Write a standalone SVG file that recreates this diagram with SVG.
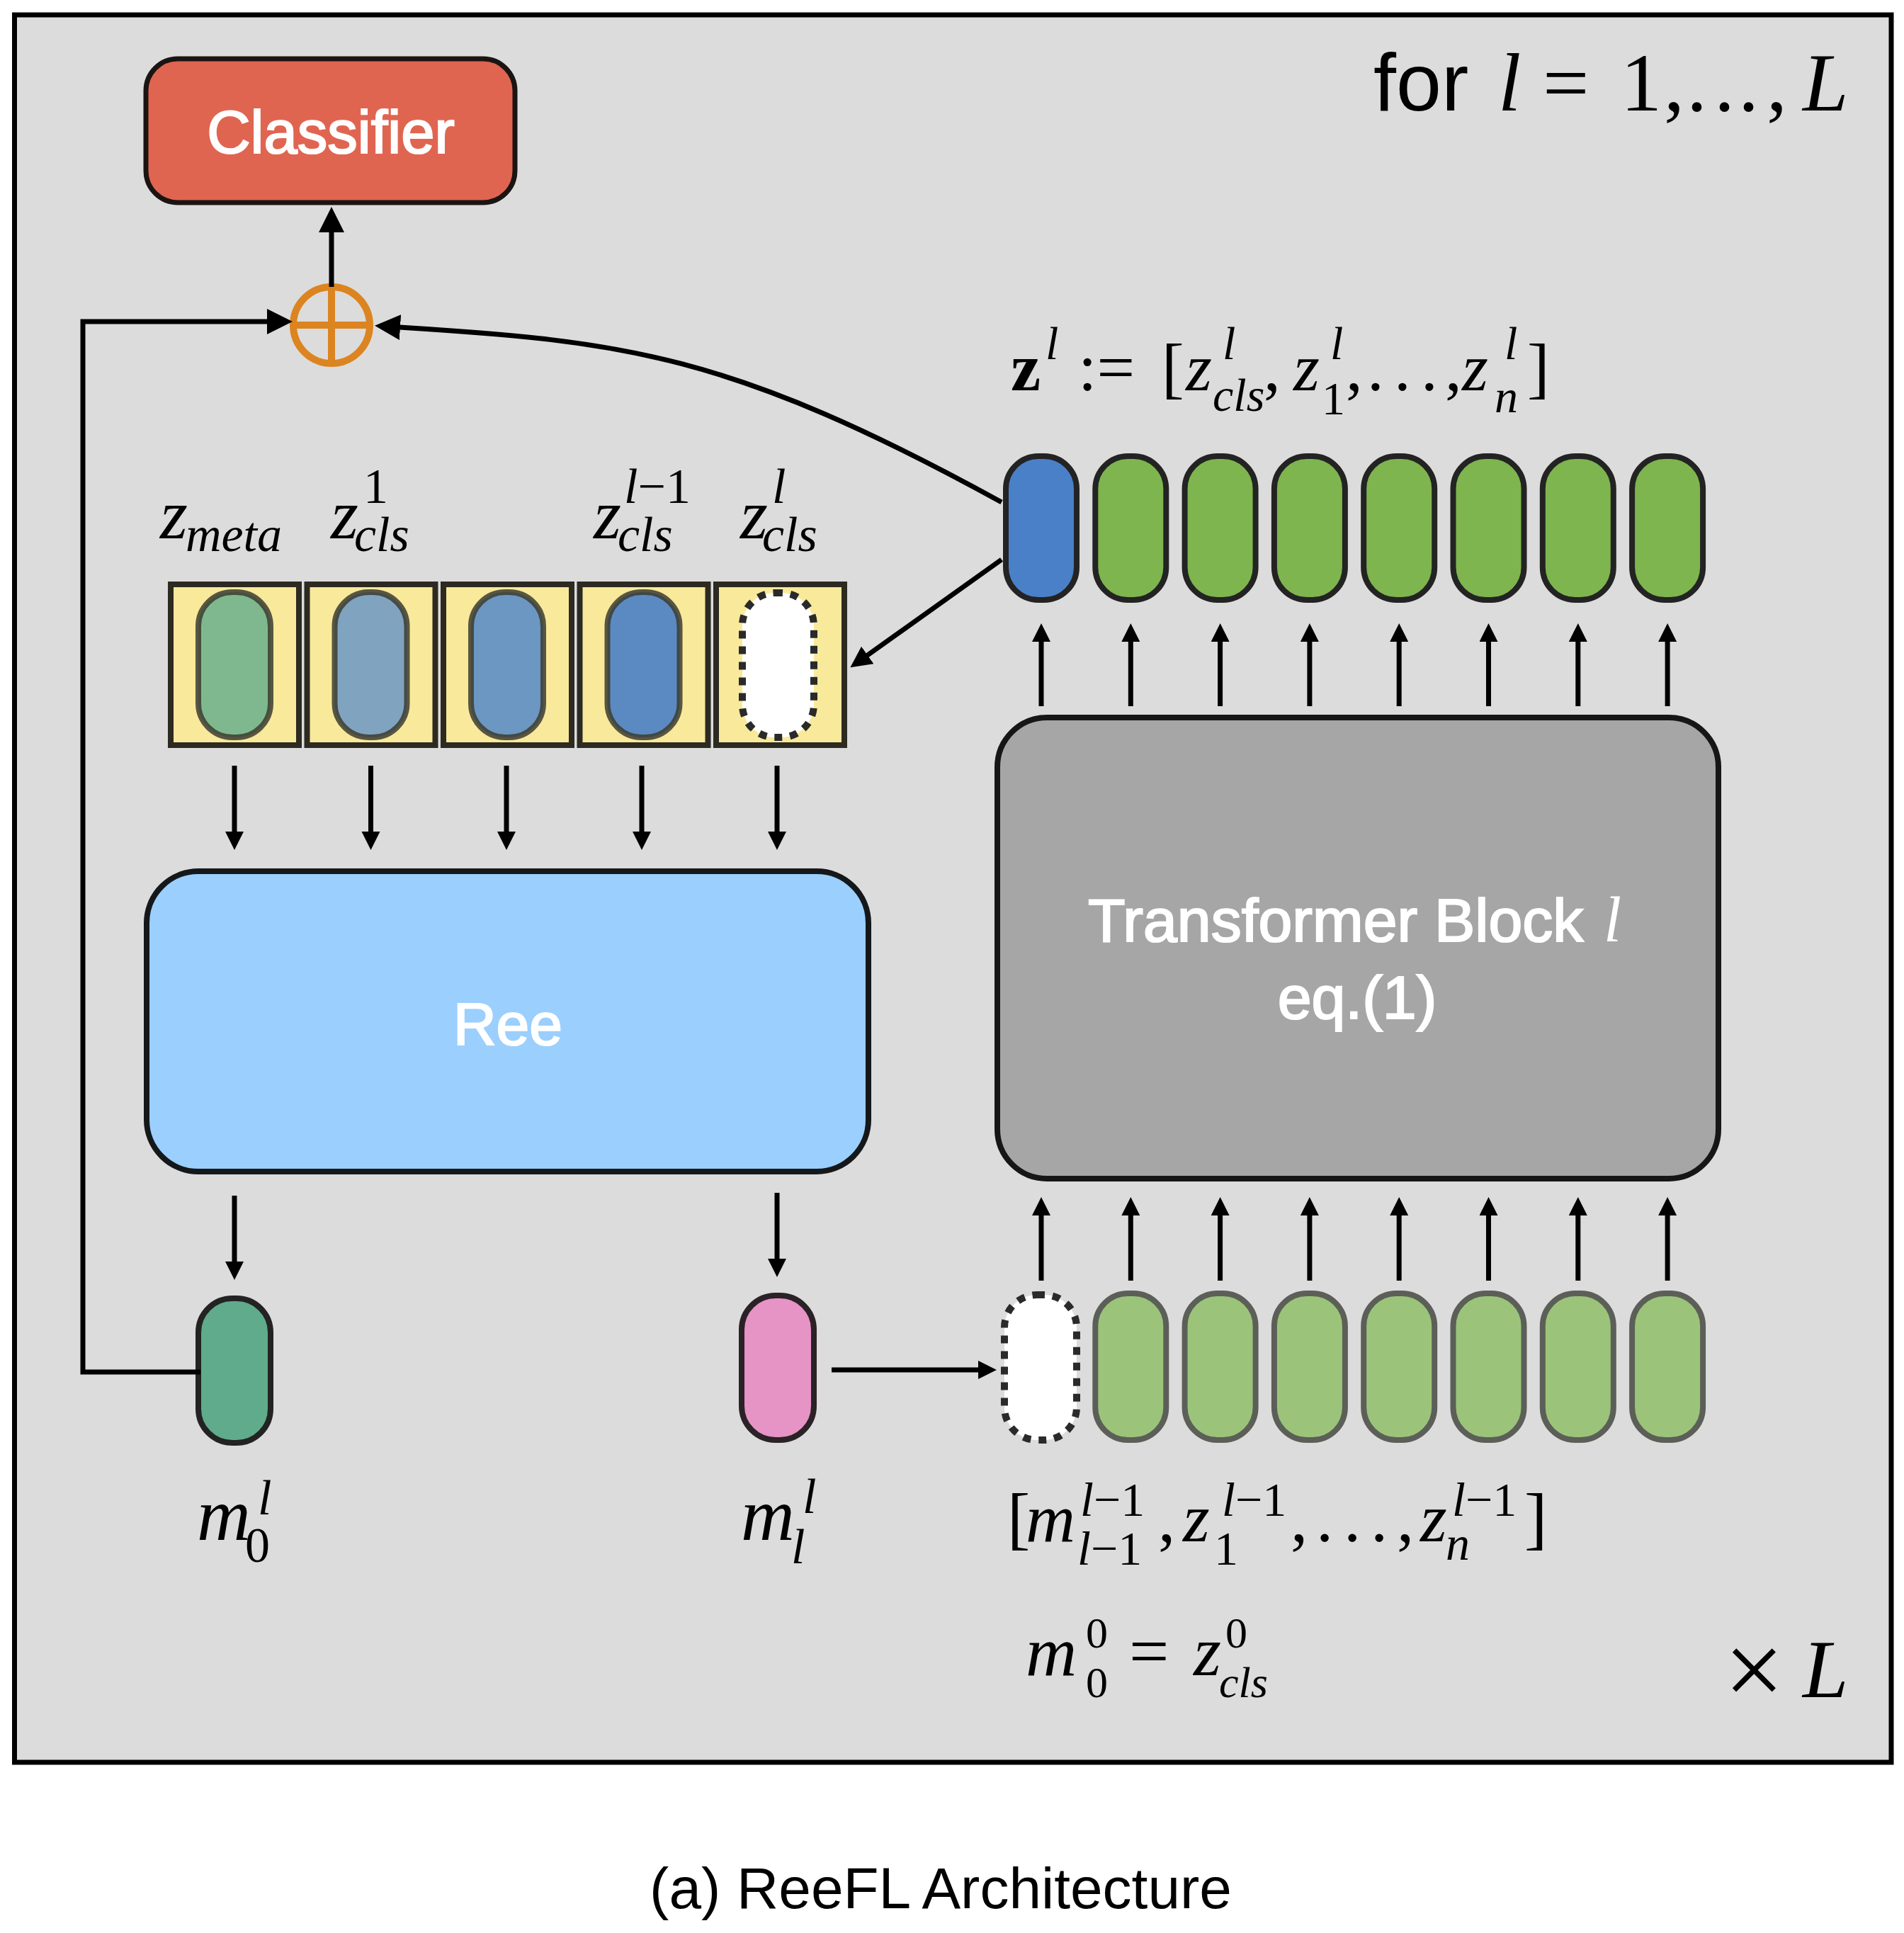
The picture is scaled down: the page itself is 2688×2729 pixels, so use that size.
<svg xmlns="http://www.w3.org/2000/svg" width="2688" height="2729" viewBox="0 0 2688 2729">
<style>
.sans{font-family:"Liberation Sans",Arial,sans-serif}
.lbl{font-family:"Liberation Sans",Arial,sans-serif;fill:#fff;stroke:#fff;stroke-width:2.2;text-anchor:middle}
.m{font-family:"Liberation Serif","Times New Roman",serif;font-style:italic;fill:#000}
.n{font-style:normal}
.conn{fill:none;stroke:#000;stroke-width:7}
.tok{stroke:#232323;stroke-width:8}
.tokb{fill:#9bc47a;stroke:#5c5f58;stroke-width:8}
.cell{fill:#f9e99b;stroke:#2d2a22;stroke-width:8}
.pill{stroke:#3c3c30;stroke-opacity:0.85;stroke-width:8}
.dash{fill:#fff;stroke:#2a2a2a;stroke-width:10;stroke-dasharray:11 11}
</style>
<defs>
<marker id="as" markerUnits="userSpaceOnUse" markerWidth="28" markerHeight="28" refX="1" refY="13" orient="auto"><path d="M0,0 L26,13 L0,26 z" fill="#000"/></marker>
<marker id="am" markerUnits="userSpaceOnUse" markerWidth="32" markerHeight="32" refX="1" refY="15" orient="auto"><path d="M0,0 L30,15 L0,30 z" fill="#000"/></marker>
<marker id="ab" markerUnits="userSpaceOnUse" markerWidth="38" markerHeight="38" refX="1" refY="18" orient="auto"><path d="M0,0 L36,18 L0,36 z" fill="#000"/></marker>
</defs>
<rect x="0" y="0" width="2688" height="2729" fill="#fff"/>
<rect id="frame" x="20.5" y="21" width="2649.5" height="2467" fill="#dcdcdc" stroke="#000" stroke-width="7"/>

<g id="for-label">
<text class="sans" x="1939" y="156" font-size="115">for</text>
<text class="m" y="156" font-size="116"><tspan x="2115">l</tspan><tspan class="n" x="2178">=</tspan><tspan class="n" x="2288">1</tspan><tspan class="n" x="2349">,</tspan><tspan class="n" x="2381">.</tspan><tspan class="n" x="2420">.</tspan><tspan class="n" x="2454">.</tspan><tspan class="n" x="2494">,</tspan><tspan x="2545">L</tspan></text>
</g>

<g id="classifier">
<rect x="206" y="83" width="521" height="203" rx="45" fill="#e06551" stroke="#1a1412" stroke-width="7"/>
<text class="lbl" x="467" y="216" font-size="85">Classifier</text>
</g>

<g id="oplus">
<circle cx="468" cy="459" r="54" fill="none" stroke="#dc8420" stroke-width="10"/>
<line x1="468" y1="405" x2="468" y2="513" stroke="#dc8420" stroke-width="10"/>
<line x1="414" y1="459" x2="522" y2="459" stroke="#dc8420" stroke-width="10"/>
</g>

<g id="z-label">
<text class="m" font-size="95" y="551"><tspan class="n" font-weight="bold" x="1427">z</tspan><tspan class="n" x="1522">:=</tspan><tspan class="n" x="1640">[</tspan><tspan x="1674">z</tspan><tspan class="n" x="1784">,</tspan><tspan x="1826">z</tspan><tspan class="n" x="1900">,</tspan><tspan class="n" x="1930">.</tspan><tspan class="n" x="1968">.</tspan><tspan class="n" x="2006">.</tspan><tspan class="n" x="2040">,</tspan><tspan x="2064">z</tspan><tspan class="n" x="2156">]</tspan></text>
<text class="m" font-size="66"><tspan x="1476" y="507">l</tspan><tspan x="1726" y="507">l</tspan><tspan x="1712" y="580">cls</tspan><tspan x="1878" y="507">l</tspan><tspan class="n" x="1866" y="585">1</tspan><tspan x="2124" y="507">l</tspan><tspan x="2110" y="582">n</tspan></text>
</g>

<g id="tokens-top">
<rect class="tok" x="1420" y="644" width="100" height="203" rx="46" fill="#4a80c8"/>
<rect class="tok" x="1546.3" y="644" width="100" height="203" rx="46" fill="#7eb54e"/>
<rect class="tok" x="1672.6" y="644" width="100" height="203" rx="46" fill="#7eb54e"/>
<rect class="tok" x="1798.9" y="644" width="100" height="203" rx="46" fill="#7eb54e"/>
<rect class="tok" x="1925.2" y="644" width="100" height="203" rx="46" fill="#7eb54e"/>
<rect class="tok" x="2051.5" y="644" width="100" height="203" rx="46" fill="#7eb54e"/>
<rect class="tok" x="2177.8" y="644" width="100" height="203" rx="46" fill="#7eb54e"/>
<rect class="tok" x="2304.1" y="644" width="100" height="203" rx="46" fill="#7eb54e"/>
</g>

<g id="transformer">
<rect x="1408" y="1013" width="1018" height="651" rx="70" fill="#a6a6a6" stroke="#161616" stroke-width="8"/>
<text class="lbl" x="1536" y="1329" font-size="86" style="text-anchor:start">Transformer Block</text>
<text class="m" x="2264" y="1329" font-size="90" style="fill:#fff">l</text>
<text class="lbl" x="1916" y="1438" font-size="86">eq.(1)</text>
</g>

<g id="tokens-bottom">
<rect class="dash" x="1418" y="1828" width="102" height="205" rx="46"/>
<rect class="tokb" x="1546.3" y="1826" width="100" height="207" rx="46"/>
<rect class="tokb" x="1672.6" y="1826" width="100" height="207" rx="46"/>
<rect class="tokb" x="1798.9" y="1826" width="100" height="207" rx="46"/>
<rect class="tokb" x="1925.2" y="1826" width="100" height="207" rx="46"/>
<rect class="tokb" x="2051.5" y="1826" width="100" height="207" rx="46"/>
<rect class="tokb" x="2177.8" y="1826" width="100" height="207" rx="46"/>
<rect class="tokb" x="2304.1" y="1826" width="100" height="207" rx="46"/>
</g>

<g id="input-label">
<text class="m" font-size="97" y="2176"><tspan class="n" x="1422">[</tspan><tspan x="1448">m</tspan><tspan class="n" x="1635">,</tspan><tspan x="1670">z</tspan><tspan class="n" x="1822">,</tspan><tspan class="n" x="1858">.</tspan><tspan class="n" x="1897">.</tspan><tspan class="n" x="1935">.</tspan><tspan class="n" x="1972">,</tspan><tspan x="2005">z</tspan><tspan class="n" x="2152">]</tspan></text>
<text class="m" font-size="68"><tspan x="1525" y="2140">l</tspan><tspan class="n">−1</tspan><tspan x="1521" y="2209">l</tspan><tspan class="n">−1</tspan><tspan x="1725" y="2140">l</tspan><tspan class="n">−1</tspan><tspan class="n" x="1714" y="2209">1</tspan><tspan x="2050" y="2140">l</tspan><tspan class="n">−1</tspan><tspan x="2041" y="2202">n</tspan></text>
</g>

<g id="init-label">
<text class="m" font-size="100" y="2365"><tspan x="1448">m</tspan><tspan class="n" x="1594">=</tspan><tspan x="1685">z</tspan></text>
<text class="m" font-size="62"><tspan class="n" x="1533" y="2326">0</tspan><tspan class="n" x="1533" y="2396">0</tspan><tspan class="n" x="1730" y="2326">0</tspan><tspan x="1721" y="2396">cls</tspan></text>
</g>

<g id="times-L">
<text class="m n" font-size="150" x="2434" y="2408">×</text>
<text class="m" font-size="116" x="2545" y="2396">L</text>
</g>

<g id="cache-labels">
<text class="m" font-size="100" y="760"><tspan x="226">z</tspan><tspan x="467">z</tspan><tspan x="838">z</tspan><tspan x="1045">z</tspan></text>
<text class="m" font-size="70"><tspan x="262" y="778">meta</tspan><tspan class="n" x="513" y="710">1</tspan><tspan x="500" y="778">cls</tspan><tspan x="881" y="710">l</tspan><tspan class="n">−1</tspan><tspan x="872" y="778">cls</tspan><tspan x="1090" y="710">l</tspan><tspan x="1076" y="778">cls</tspan></text>
</g>

<g id="cache">
<rect class="cell" x="241" y="825" width="181" height="227"/>
<rect class="cell" x="433.5" y="825" width="181" height="227"/>
<rect class="cell" x="626" y="825" width="181" height="227"/>
<rect class="cell" x="818.5" y="825" width="181" height="227"/>
<rect class="cell" x="1011" y="825" width="181" height="227"/>
<rect class="pill" x="280" y="836" width="102" height="205" rx="48" fill="#7fb88f"/>
<rect class="pill" x="472.5" y="836" width="102" height="205" rx="48" fill="#80a3bf"/>
<rect class="pill" x="665" y="836" width="102" height="205" rx="48" fill="#6b97c2"/>
<rect class="pill" x="857.5" y="836" width="102" height="205" rx="48" fill="#5b8ac3"/>
<rect class="dash" x="1048" y="837" width="101" height="204" rx="46"/>
</g>

<g id="ree">
<rect x="207" y="1230" width="1019" height="424" rx="73" fill="#9bcffd" stroke="#15181a" stroke-width="8"/>
<text class="lbl" x="717" y="1475" font-size="84">Ree</text>
</g>

<g id="m0">
<rect x="280" y="1833" width="102" height="204" rx="48" fill="#5fab8b" stroke="#232323" stroke-width="8"/>
<text class="m" font-size="105" x="278" y="2174">m</text>
<text class="m" font-size="70"><tspan x="364" y="2138">l</tspan><tspan class="n" x="346" y="2205">0</tspan></text>
</g>

<g id="ml">
<rect x="1047" y="1829" width="102" height="204" rx="48" fill="#e693c6" stroke="#2a2226" stroke-width="8"/>
<text class="m" font-size="105" x="1046" y="2174">m</text>
<text class="m" font-size="70"><tspan x="1133" y="2136">l</tspan><tspan x="1117" y="2207">l</tspan></text>
</g>

<g id="connectors">
<path class="conn" d="M468,405 L468,327" marker-end="url(#ab)"/>
<path class="conn" d="M283,1937 L117,1937 L117,454 L378,454" marker-end="url(#ab)"/>
<path class="conn" d="M1414,709 C1030,498 880,482 564,462" marker-end="url(#ab)"/>
<path class="conn" d="M1414,790 L1224,925.5" marker-end="url(#am)"/>
<path class="conn" d="M331,1081 V1175" marker-end="url(#as)"/>
<path class="conn" d="M523.5,1081 V1175" marker-end="url(#as)"/>
<path class="conn" d="M715,1081 V1175" marker-end="url(#as)"/>
<path class="conn" d="M906,1081 V1175" marker-end="url(#as)"/>
<path class="conn" d="M1097,1081 V1175" marker-end="url(#as)"/>
<path class="conn" d="M331,1688 V1782" marker-end="url(#as)"/>
<path class="conn" d="M1097,1684 V1778" marker-end="url(#as)"/>
<path class="conn" d="M1174,1934 H1382" marker-end="url(#as)"/>
<path class="conn" d="M1470,997 V905" marker-end="url(#as)"/>
<path class="conn" d="M1596.3,997 V905" marker-end="url(#as)"/>
<path class="conn" d="M1722.6,997 V905" marker-end="url(#as)"/>
<path class="conn" d="M1848.9,997 V905" marker-end="url(#as)"/>
<path class="conn" d="M1975.2,997 V905" marker-end="url(#as)"/>
<path class="conn" d="M2101.5,997 V905" marker-end="url(#as)"/>
<path class="conn" d="M2227.8,997 V905" marker-end="url(#as)"/>
<path class="conn" d="M2354.1,997 V905" marker-end="url(#as)"/>
<path class="conn" d="M1470,1808 V1715" marker-end="url(#as)"/>
<path class="conn" d="M1596.3,1808 V1715" marker-end="url(#as)"/>
<path class="conn" d="M1722.6,1808 V1715" marker-end="url(#as)"/>
<path class="conn" d="M1848.9,1808 V1715" marker-end="url(#as)"/>
<path class="conn" d="M1975.2,1808 V1715" marker-end="url(#as)"/>
<path class="conn" d="M2101.5,1808 V1715" marker-end="url(#as)"/>
<path class="conn" d="M2227.8,1808 V1715" marker-end="url(#as)"/>
<path class="conn" d="M2354.1,1808 V1715" marker-end="url(#as)"/>
</g>

<text class="sans" x="1328" y="2694" font-size="82" text-anchor="middle">(a) ReeFL Architecture</text>
</svg>
